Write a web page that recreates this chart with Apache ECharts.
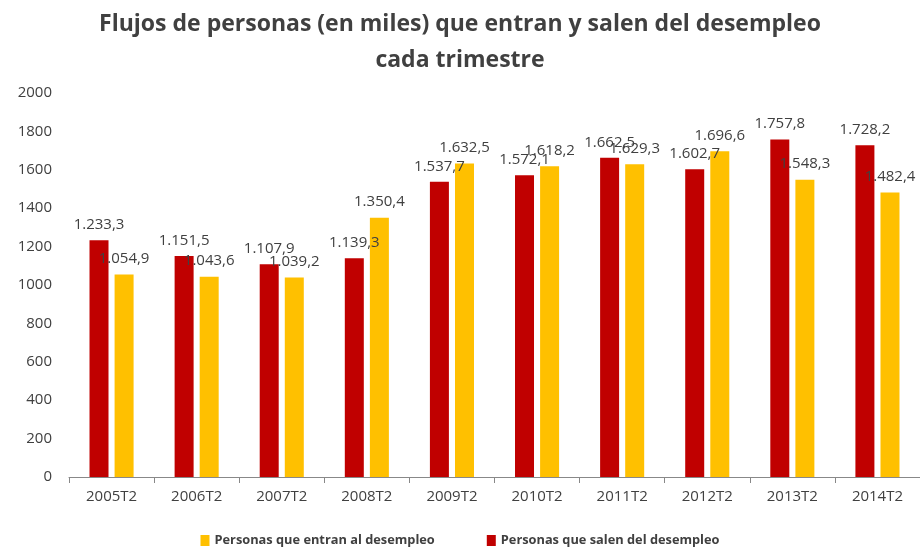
<!DOCTYPE html>
<html>
<head>
<meta charset="utf-8">
<script src="https://cdn.jsdelivr.net/npm/echarts@6/dist/echarts.min.js"></script>
<style>html,body{margin:0;padding:0;background:#fff}#c{width:920px;height:547px}</style>
</head>
<body>
<div id="c"></div>
<script>
const categories = ['2005T2','2006T2','2007T2','2008T2','2009T2','2010T2','2011T2','2012T2','2013T2','2014T2'];
const salen = [1233.3, 1151.5, 1107.9, 1139.3, 1537.7, 1572.1, 1662.5, 1602.7, 1757.8, 1728.2];
const entran = [1054.9, 1043.6, 1039.2, 1350.4, 1632.5, 1618.2, 1629.3, 1696.6, 1548.3, 1482.4];
const yTicks = [0, 200, 400, 600, 800, 1000, 1200, 1400, 1600, 1800, 2000];
const nameEntran = 'Personas que entran al desempleo';
const nameSalen = 'Personas que salen del desempleo';

function fmt(v) {
  const parts = v.toFixed(1).split('.');
  const intPart = parts[0].replace(/\B(?=(\d{3})+(?!\d))/g, '.');
  return intPart + ',' + parts[1];
}

const labelStyle = {
  show: true, position: 'top', distance: 8,
  fontFamily: 'Open Sans', fontSize: 15, color: '#404040',
  formatter: p => fmt(p.value)
};

const chart = echarts.init(document.getElementById('c'));
chart.setOption({
  animation: false,
  title: {
    text: 'Flujos de personas (en miles) que entran y salen del desempleo\ncada trimestre',
    left: 'center', top: 1,
    textStyle: { fontFamily: 'Open Sans', fontWeight: 'bold', fontSize: 23, color: '#404040', lineHeight: 36 }
  },
  legend: {
    data: [nameEntran, nameSalen],
    top: 529, left: 'center', icon: 'rect',
    itemWidth: 9, itemHeight: 11, itemGap: 52,
    textStyle: { fontFamily: 'Open Sans', fontWeight: 'bold', fontSize: 12.8, color: '#404040' }
  },
  grid: { left: 69, right: 0, top: 93, bottom: 70 },
  xAxis: {
    type: 'category', data: categories,
    axisLine: { lineStyle: { color: '#888' } },
    axisTick: { show: true, length: 6, lineStyle: { color: '#888' } },
    axisLabel: { fontFamily: 'Open Sans', fontSize: 15, color: '#404040', margin: 12 }
  },
  yAxis: {
    type: 'value', min: yTicks[0], max: yTicks[yTicks.length - 1], interval: yTicks[1] - yTicks[0],
    axisLine: { show: false }, axisTick: { show: false }, splitLine: { show: false },
    axisLabel: { fontFamily: 'Open Sans', fontSize: 15, color: '#404040', margin: 17, formatter: v => String(v) }
  },
  series: [
    { name: nameSalen, type: 'bar', data: salen, barWidth: 19, barGap: '32%', itemStyle: { color: '#C00000' }, label: labelStyle },
    { name: nameEntran, type: 'bar', data: entran, barWidth: 19, itemStyle: { color: '#FFC000' }, label: labelStyle }
  ]
});
</script>
</body>
</html>
